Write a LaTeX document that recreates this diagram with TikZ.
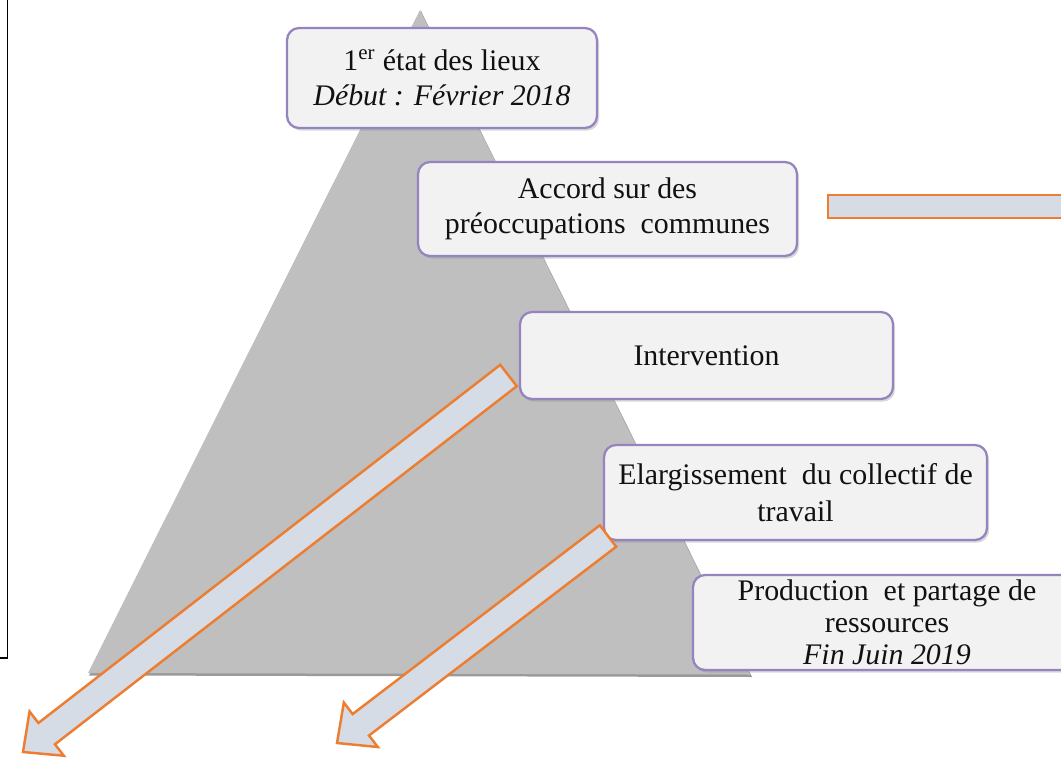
\documentclass[tikz,border=0pt]{standalone}
\usepackage{fontspec}
\setmainfont{Liberation Serif}
\usetikzlibrary{calc,shadows}
\definecolor{tri}{HTML}{BFBFBF}
\definecolor{trishadow}{HTML}{9A9A9A}
\definecolor{boxfill}{HTML}{F2F2F2}
\definecolor{boxline}{HTML}{9684BE}
\definecolor{arrfill}{HTML}{D6DCE5}
\definecolor{arrline}{HTML}{ED7D31}
\definecolor{txt}{HTML}{111111}
\begin{document}
\begin{tikzpicture}[x=0.02cm,y=-0.02cm,
  box/.style={draw=boxline, line width=1.3pt, fill=boxfill, rounded corners=0.24cm,
    align=center, text=txt, font=\fontsize{17}{20}\selectfont, inner sep=0pt,
    drop shadow={shadow xshift=1.2pt, shadow yshift=-1.5pt, opacity=0.3}},
  blk/.style={draw=arrline, fill=arrfill, line width=1.4pt, line join=miter}]
\useasboundingbox (0,0) rectangle (1061,757);
\clip (0,0) rectangle (1061,757);
% left frame
\draw[black, line width=0.6pt] (-20,-20) rectangle (7.5,658);
% pyramid
\fill[trishadow] (89,675.5) -- (421,11) -- (752,677) -- cycle;
\fill[tri] (88,673) -- (420,10) -- (750,674.5) -- cycle;
% boxes
\node[box, minimum width=6.2cm, minimum height=2cm] (b1) at (442,78)
  {1\textsuperscript{er} état des lieux\\\textit{Début : Février 2018}};
\node[box, minimum width=7.58cm, minimum height=1.88cm] (b2) at (607.5,209)
  {Accord sur des\\préoccupations\ \ communes};
\node[box, minimum width=7.46cm, minimum height=1.74cm] (b3) at (706.5,355.5)
  {Intervention};
\node[box, minimum width=7.66cm, minimum height=1.9cm, font=\fontsize{17}{21}\selectfont] (b4) at (795.5,492.5)
  {Elargissement\ \ du\ collectif\ de\\travail};
\node[box, minimum width=7.76cm, minimum height=1.9cm, font=\fontsize{17}{18.2}\selectfont] (b5) at (887,622.5)
  {Production\ \ et\ partage\ de\\ressources\\\textit{Fin Juin 2019}};
% top right arrow shaft
\draw[blk] (828,195) rectangle (1085,218);
% block arrows
\coordinate (t1) at (508.5,375.5);
\coordinate (p1) at (23,752);
\coordinate (t2) at (608,536);
\coordinate (p2) at (337,743);
\foreach \t/\p in {t1/p1, t2/p2}{
  \coordinate (hb) at ($(\p)!0.6cm!(\t)$);
  \draw[blk]
    ($(\t)!0.27cm!90:(\p)$) --
    ($(hb)!0.27cm!90:(\p)$) --
    ($(hb)!0.56cm!90:(\p)$) --
    (\p) --
    ($(hb)!0.56cm!-90:(\p)$) --
    ($(hb)!0.27cm!-90:(\p)$) --
    ($(\t)!0.27cm!-90:(\p)$) -- cycle;
}
\end{tikzpicture}
\end{document}
